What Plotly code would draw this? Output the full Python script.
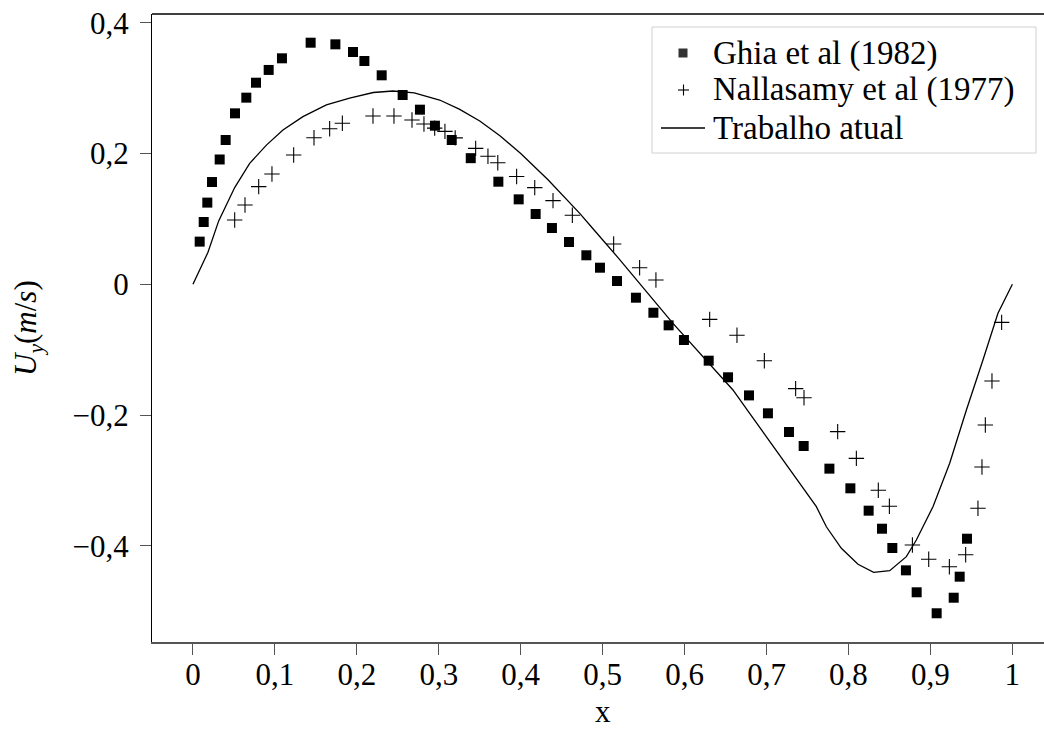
import plotly.graph_objects as go

# Ghia et al (1982) reference points
ghia_x = [0.0082, 0.0131, 0.0175, 0.0232, 0.0326, 0.0399, 0.0513, 0.0651, 0.0769, 0.0924,
          0.1086, 0.1436, 0.1738, 0.1953, 0.2092, 0.2303, 0.2559, 0.2770, 0.2953, 0.3158,
          0.3390, 0.3727, 0.3975, 0.4182, 0.4381, 0.4589, 0.4801, 0.4967, 0.5175, 0.5406,
          0.5619, 0.5805, 0.5992, 0.6294, 0.6530, 0.6786, 0.7017, 0.7274, 0.7453, 0.7767,
          0.8023, 0.8246, 0.8409, 0.8535, 0.8701, 0.8832, 0.9076, 0.9284, 0.9357, 0.9446]
ghia_y = [0.0653, 0.0953, 0.1250, 0.1565, 0.1910, 0.2208, 0.2616, 0.2856, 0.3085, 0.3280,
          0.3458, 0.3697, 0.3672, 0.3555, 0.3417, 0.3198, 0.2897, 0.2672, 0.2427, 0.2208,
          0.1930, 0.1570, 0.1300, 0.1076, 0.0861, 0.0647, 0.0444, 0.0254, 0.0050, -0.0205,
          -0.0435, -0.0628, -0.0852, -0.1169, -0.1423, -0.1700, -0.1974, -0.2260, -0.2474, -0.2821,
          -0.3122, -0.3464, -0.3740, -0.4035, -0.4377, -0.4713, -0.5034, -0.4796, -0.4474, -0.3893]

# Nallasamy et al (1977) reference points
nall_x = [0.0509, 0.0635, 0.0802, 0.0964, 0.1229, 0.1477, 0.1668, 0.1823, 0.2197, 0.2453,
          0.2673, 0.2819, 0.2950, 0.3075, 0.3200, 0.3450, 0.3600, 0.3720, 0.3950, 0.4171,
          0.4394, 0.4630, 0.5134, 0.5451, 0.5650, 0.6306, 0.6639, 0.6973, 0.7355, 0.7457,
          0.7868, 0.8096, 0.8364, 0.8499, 0.8780, 0.8979, 0.9231, 0.9430, 0.9580, 0.9629,
          0.9670, 0.9751, 0.9869]
nall_y = [0.0984, 0.1213, 0.1494, 0.1688, 0.1979, 0.2243, 0.2381, 0.2464, 0.2575, 0.2575,
          0.2514, 0.2453, 0.2390, 0.2340, 0.2240, 0.2080, 0.1960, 0.1860, 0.1650, 0.1480,
          0.1280, 0.1056, 0.0617, 0.0254, 0.0066, -0.0536, -0.0780, -0.1170, -0.1597, -0.1735,
          -0.2255, -0.2663, -0.3152, -0.3397, -0.3989, -0.4208, -0.4321, -0.4138, -0.3428, -0.2796,
          -0.2153, -0.1480, -0.0582]

# Present work (simulation profile)
sim_x = [0.0, 0.0183, 0.0314, 0.0509, 0.0692, 0.0896, 0.1098, 0.1342, 0.1628, 0.1912,
         0.2200, 0.2440, 0.2700, 0.3010, 0.3250, 0.3500, 0.3750, 0.4000, 0.4333, 0.4720,
         0.4882, 0.5200, 0.5858, 0.6184, 0.6346, 0.6590, 0.6794, 0.6998, 0.7200, 0.7404,
         0.7608, 0.7730, 0.7913, 0.8116, 0.8307, 0.8503, 0.8706, 0.8828, 0.9031, 0.9235,
         0.9439, 0.9641, 0.9824, 1.0]
sim_y = [0.0, 0.0490, 0.0970, 0.1480, 0.1850, 0.2130, 0.2360, 0.2565, 0.2744, 0.2850,
         0.2935, 0.2958, 0.2930, 0.2820, 0.2680, 0.2500, 0.2270, 0.2000, 0.1600, 0.1086,
         0.0850, 0.0390, -0.0597, -0.1056, -0.1285, -0.1617, -0.1974, -0.2332, -0.2689, -0.3045,
         -0.3403, -0.3710, -0.4040, -0.4285, -0.4407, -0.4383, -0.4168, -0.3913, -0.3403, -0.2739,
         -0.1923, -0.1158, -0.0444, 0.0]

x_ticks = [0.0, 0.1, 0.2, 0.3, 0.4, 0.5, 0.6, 0.7, 0.8, 0.9, 1.0]
x_tick_labels = ["0", "0,1", "0,2", "0,3", "0,4", "0,5", "0,6", "0,7", "0,8", "0,9", "1"]
y_ticks = [-0.4, -0.2, 0.0, 0.2, 0.4]
y_tick_labels = ["\u22120,4", "\u22120,2", "0", "0,2", "0,4"]

series_names = ["Ghia et al (1982)", "Nallasamy et al (1977)", "Trabalho atual"]

FONT = "Liberation Serif"
W, H = 1044, 731
ML, MR, MT, MB = 152, 0, 14, 89
plot_w = W - ML - MR
plot_h = H - MT - MB


def px(xp):
    """Horizontal pixel -> paper fraction of the plot area."""
    return (xp - ML) / plot_w


def py(yp):
    """Vertical pixel (from top) -> paper fraction of the plot area."""
    return (H - MB - yp) / plot_h


fig = go.Figure()
fig.add_trace(go.Scatter(
    x=ghia_x, y=ghia_y, mode="markers", name=series_names[0],
    marker=dict(symbol="square", size=10, color="black", line=dict(width=0)),
))
fig.add_trace(go.Scatter(
    x=nall_x, y=nall_y, mode="markers", name=series_names[1],
    marker=dict(symbol="cross-thin", size=11, color="black",
                line=dict(width=1.1, color="black")),
))
fig.add_trace(go.Scatter(
    x=sim_x, y=sim_y, mode="lines", name=series_names[2],
    line=dict(color="black", width=1.3),
))

fig.update_layout(
    width=W, height=H,
    margin=dict(l=ML, r=MR, t=MT, b=MB),
    paper_bgcolor="white", plot_bgcolor="white",
    font=dict(family=FONT, size=31, color="black"),
    showlegend=False,
    xaxis=dict(
        range=[-0.05, -0.05 + plot_w / 819.4],
        tickmode="array", tickvals=x_ticks, ticktext=x_tick_labels,
        ticks="outside", ticklen=11, tickwidth=1.3, tickcolor="#555555",
        showline=True, linecolor="#555555", linewidth=1.6,
        showgrid=False, zeroline=False, ticklabelstandoff=-7,
        tickfont=dict(family=FONT, size=31, color="black"),
    ),
    yaxis=dict(
        range=[-(642 - 284.3) / 653.5, (284.3 - 14) / 653.5],
        tickmode="array", tickvals=y_ticks, ticktext=y_tick_labels,
        ticks="outside", ticklen=11, tickwidth=1.3, tickcolor="#555555",
        showline=True, linecolor="black", linewidth=1.3,
        showgrid=False, zeroline=False, ticklabelstandoff=5,
        tickfont=dict(family=FONT, size=31, color="black"),
    ),
)

# top frame edge
fig.add_shape(type="line", xref="paper", yref="paper", x0=0, x1=1, y0=1, y1=1,
              line=dict(color="black", width=1.3))

# legend box
fig.add_shape(type="rect", xref="paper", yref="paper",
              x0=px(652), x1=px(1036), y0=py(153), y1=py(27),
              line=dict(color="#d0d0d0", width=1), fillcolor="white", layer="above")
rows = [53, 90, 128]
# legend symbols: square, plus, line
fig.add_shape(type="rect", xref="paper", yref="paper",
              x0=px(678.5), x1=px(687.5), y0=py(rows[0] + 4.5), y1=py(rows[0] - 4.5),
              line=dict(width=0), fillcolor="#333333", layer="above")
fig.add_shape(type="line", xref="paper", yref="paper",
              x0=px(678), x1=px(689), y0=py(rows[1]), y1=py(rows[1]),
              line=dict(color="black", width=1.1), layer="above")
fig.add_shape(type="line", xref="paper", yref="paper",
              x0=px(683.5), x1=px(683.5), y0=py(rows[1] - 5.5), y1=py(rows[1] + 5.5),
              line=dict(color="black", width=1.1), layer="above")
fig.add_shape(type="line", xref="paper", yref="paper",
              x0=px(661), x1=px(705), y0=py(rows[2]), y1=py(rows[2]),
              line=dict(color="black", width=1.3), layer="above")
for name, row in zip(series_names, rows):
    fig.add_annotation(text=name, xref="paper", yref="paper",
                       x=px(711), y=py(row), xanchor="left", yanchor="middle",
                       showarrow=False, font=dict(family=FONT, size=33, color="black"))

# axis titles
fig.add_annotation(text="x", xref="paper", yref="paper",
                   x=px(603), y=py(711),
                   xanchor="center", yanchor="middle", showarrow=False,
                   font=dict(family=FONT, size=31, color="black"))
fig.add_annotation(text="<i>U</i><sub><i>y</i></sub>(<i>m</i>/<i>s</i>)",
                   xref="paper", yref="paper",
                   x=px(28), y=py(328),
                   xanchor="center", yanchor="middle", textangle=-90, showarrow=False,
                   font=dict(family=FONT, size=31, color="black"))

fig.write_html("out.html")
